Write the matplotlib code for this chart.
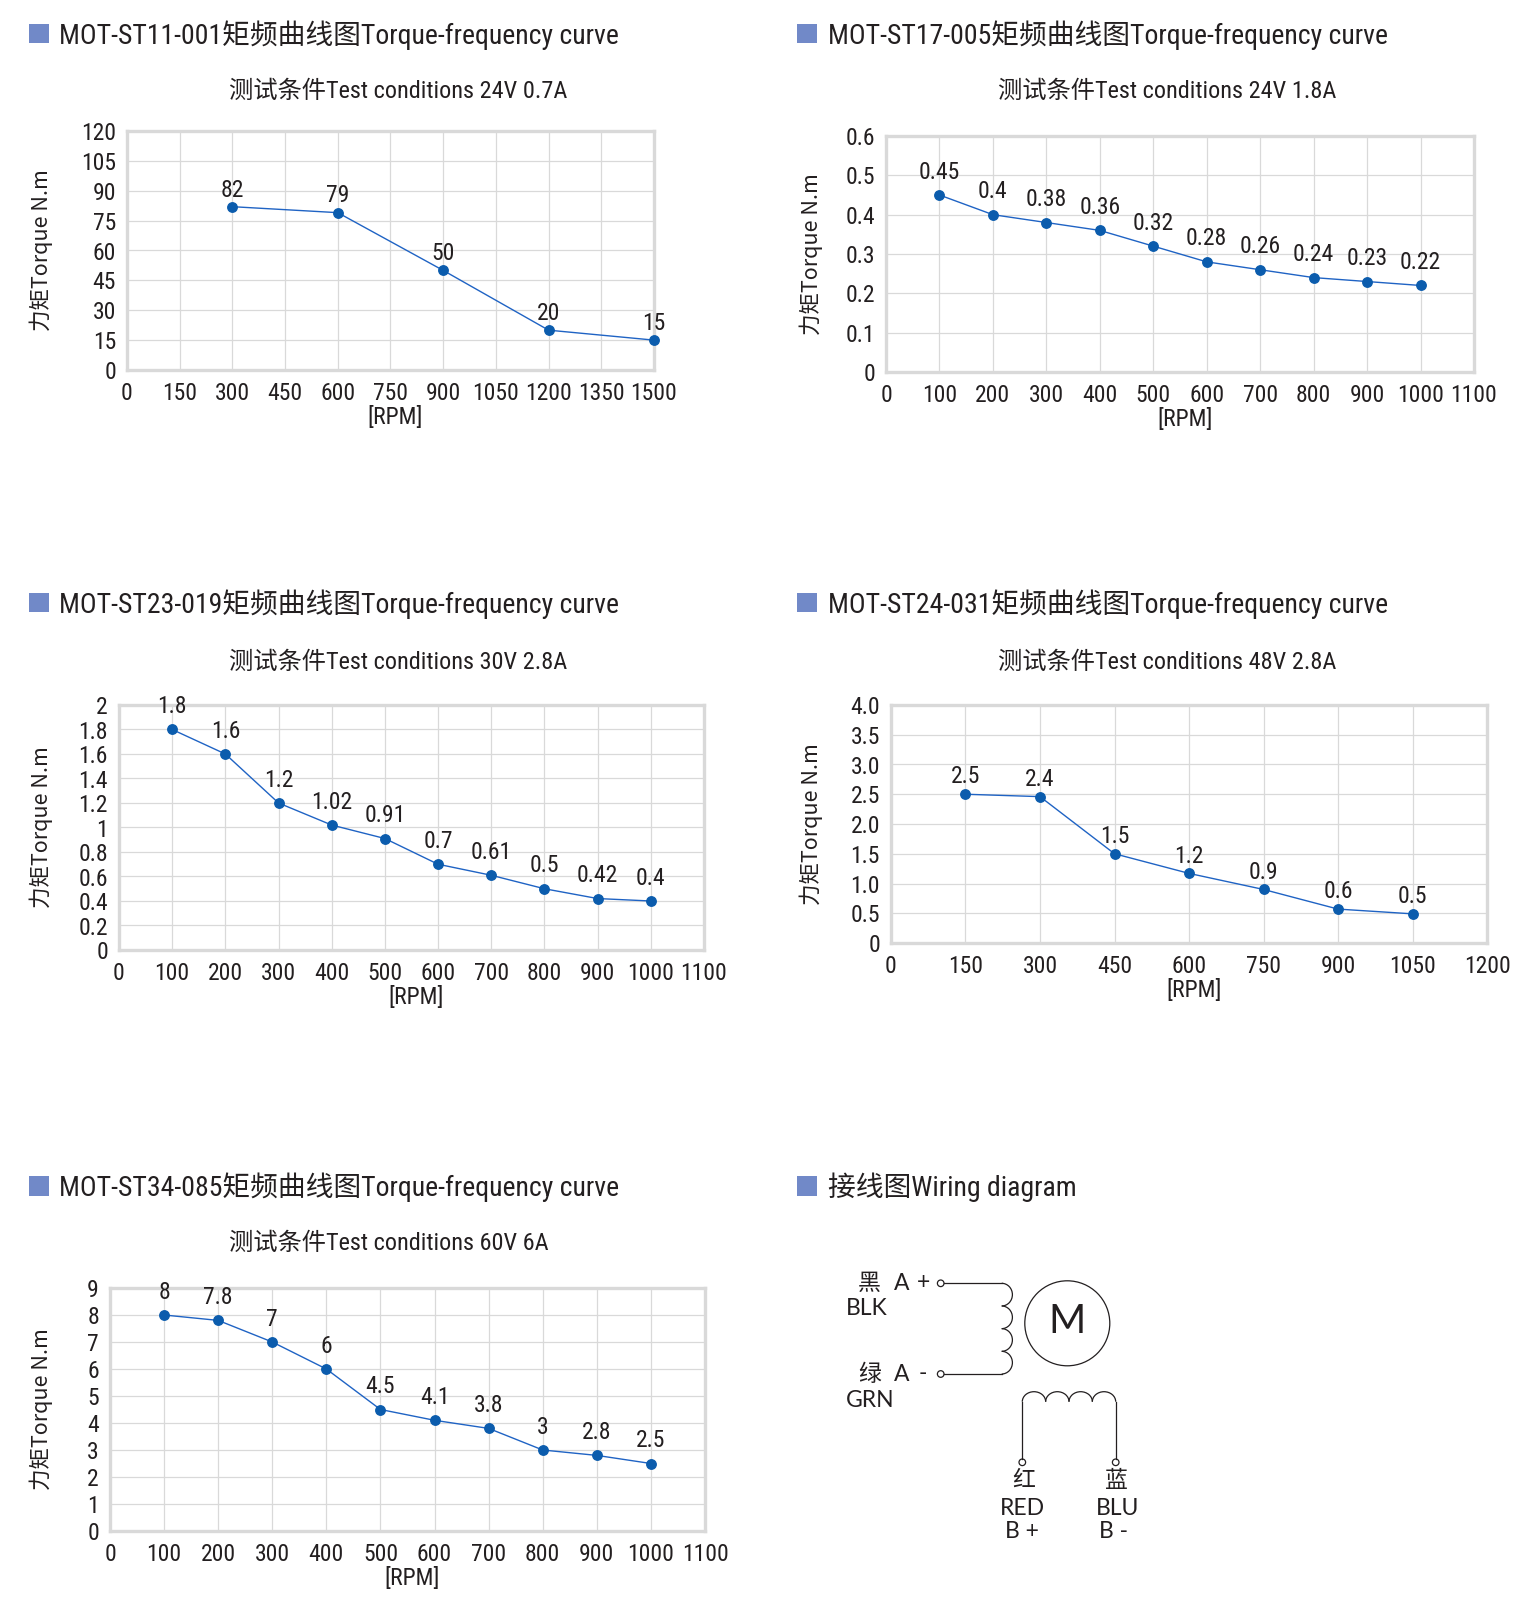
import matplotlib
matplotlib.use("Agg")
import matplotlib.pyplot as plt
from matplotlib.patches import Arc, Circle, Rectangle

W, H = 1524, 1610

NARROW = ['Roboto Condensed', 'Noto Sans CJK SC']
CJK = ['Noto Sans CJK SC', 'DejaVu Sans']
ROUND = ['Lato', 'Noto Sans CJK SC']
INK = '#231f20'
SQUARE = '#7189c8'
GRID = '#d9d9d9'
LINE = '#1f63c4'
DOT = '#0b5cad'

# ── data ───────────────────────────────────────────────────────────────────
st11_rpm = [300, 600, 900, 1200, 1500]
st11_torque = [82, 79, 50, 20, 15]
st11_labels = ['82', '79', '50', '20', '15']
st11_xticks = [0, 150, 300, 450, 600, 750, 900, 1050, 1200, 1350, 1500]
st11_yticks = [0, 15, 30, 45, 60, 75, 90, 105, 120]
st11_yticklabels = ['0', '15', '30', '45', '60', '75', '90', '105', '120']

st17_rpm = [100, 200, 300, 400, 500, 600, 700, 800, 900, 1000]
st17_torque = [0.45, 0.40, 0.38, 0.36, 0.32, 0.28, 0.26, 0.24, 0.23, 0.22]
st17_labels = ['0.45', '0.4', '0.38', '0.36', '0.32', '0.28', '0.26', '0.24', '0.23', '0.22']
st17_xticks = [0, 100, 200, 300, 400, 500, 600, 700, 800, 900, 1000, 1100]
st17_yticks = [0, 0.1, 0.2, 0.3, 0.4, 0.5, 0.6]
st17_yticklabels = ['0', '0.1', '0.2', '0.3', '0.4', '0.5', '0.6']

st23_rpm = [100, 200, 300, 400, 500, 600, 700, 800, 900, 1000]
st23_torque = [1.8, 1.6, 1.2, 1.02, 0.91, 0.7, 0.61, 0.5, 0.42, 0.4]
st23_labels = ['1.8', '1.6', '1.2', '1.02', '0.91', '0.7', '0.61', '0.5', '0.42', '0.4']
st23_xticks = [0, 100, 200, 300, 400, 500, 600, 700, 800, 900, 1000, 1100]
st23_yticks = [0, 0.2, 0.4, 0.6, 0.8, 1.0, 1.2, 1.4, 1.6, 1.8, 2.0]
st23_yticklabels = ['0', '0.2', '0.4', '0.6', '0.8', '1', '1.2', '1.4', '1.6', '1.8', '2']

st24_rpm = [150, 300, 450, 600, 750, 900, 1050]
st24_torque = [2.5, 2.46, 1.5, 1.17, 0.9, 0.57, 0.49]
st24_labels = ['2.5', '2.4', '1.5', '1.2', '0.9', '0.6', '0.5']
st24_xticks = [0, 150, 300, 450, 600, 750, 900, 1050, 1200]
st24_yticks = [0, 0.5, 1.0, 1.5, 2.0, 2.5, 3.0, 3.5, 4.0]
st24_yticklabels = ['0', '0.5', '1.0', '1.5', '2.0', '2.5', '3.0', '3.5', '4.0']

st34_rpm = [100, 200, 300, 400, 500, 600, 700, 800, 900, 1000]
st34_torque = [8, 7.8, 7, 6, 4.5, 4.1, 3.8, 3, 2.8, 2.5]
st34_labels = ['8', '7.8', '7', '6', '4.5', '4.1', '3.8', '3', '2.8', '2.5']
st34_xticks = [0, 100, 200, 300, 400, 500, 600, 700, 800, 900, 1000, 1100]
st34_yticks = [0, 1, 2, 3, 4, 5, 6, 7, 8, 9]
st34_yticklabels = ['0', '1', '2', '3', '4', '5', '6', '7', '8', '9']

titles = ['MOT-ST11-001矩频曲线图Torque-frequency curve',
          'MOT-ST17-005矩频曲线图Torque-frequency curve',
          'MOT-ST23-019矩频曲线图Torque-frequency curve',
          'MOT-ST24-031矩频曲线图Torque-frequency curve',
          'MOT-ST34-085矩频曲线图Torque-frequency curve']
subtitles = ['测试条件Test conditions 24V 0.7A',
             '测试条件Test conditions 24V 1.8A',
             '测试条件Test conditions 30V 2.8A',
             '测试条件Test conditions 48V 2.8A',
             '测试条件Test conditions 60V 6A']

fig = plt.figure(figsize=(W / 100, H / 100), dpi=100)
fig.patch.set_facecolor('white')

# overlay in pixel coordinates for headings and the wiring sketch
ov = fig.add_axes([0, 0, 1, 1])
ov.set_xlim(0, W)
ov.set_ylim(H, 0)
ov.axis('off')

COL_SQ = [29, 797]
COL_TXT = [59, 828]
COL_SUB = [229, 998]
COL_YLAB = [41, 811]
ROW_TITLE = [35, 604, 1187]
ROW_SUB = [91.5, 662, 1243]


def heading(col, row, text):
    y = ROW_TITLE[row]
    ov.add_patch(Rectangle((COL_SQ[col], y - 11), 20, 19.5, color=SQUARE, lw=0))
    ov.text(COL_TXT[col], y, text, fontsize=20, family=NARROW, color=INK,
            ha='left', va='center')


def chart(col, row, box, rpm, torque, labels, xticks, yticks, yticklabels, lab_off):
    left, top, right, bottom = box
    heading(col, row, titles[row * 2 + col])
    ov.text(COL_SUB[col], ROW_SUB[row], subtitles[row * 2 + col], fontsize=17.5,
            family=NARROW, color=INK, ha='left', va='center')
    ov.text(COL_YLAB[col], (top + bottom) / 2, '力矩Torque N.m', fontsize=15.5,
            family=CJK, color=INK, rotation=90, ha='center', va='center')
    ov.text((left + right) / 2 + 5, bottom + 47, '[RPM]', fontsize=17,
            family=NARROW, color=INK, ha='center', va='center')

    ax = fig.add_axes([left / W, 1 - bottom / H, (right - left) / W, (bottom - top) / H])
    ax.plot(rpm, torque, color=LINE, lw=1.0, marker='o', markersize=6.8,
            markerfacecolor=DOT, markeredgecolor=DOT, zorder=4, clip_on=False)
    for x, y, t in zip(rpm, torque, labels):
        ax.annotate(t, (x, y), xytext=(0, lab_off), textcoords='offset points',
                    ha='center', va='center', fontsize=17, family=NARROW, color=INK)
    ax.set_xlim(xticks[0], xticks[-1])
    ax.set_ylim(yticks[0], yticks[-1])
    ax.set_xticks(xticks)
    ax.set_xticklabels([str(v) for v in xticks], family=NARROW, fontsize=17, color=INK)
    ax.set_yticks(yticks)
    ax.set_yticklabels(yticklabels, family=NARROW, fontsize=17, color=INK)
    ax.tick_params(length=0)
    ax.tick_params(axis='x', pad=8.5)
    ax.tick_params(axis='y', pad=8)
    ax.grid(True, color=GRID, lw=0.9)
    ax.set_axisbelow(True)
    for s in ax.spines.values():
        s.set_color(GRID)
        s.set_linewidth(2.4)
    return ax


chart(0, 0, (127, 131, 654, 370), st11_rpm, st11_torque, st11_labels,
      st11_xticks, st11_yticks, st11_yticklabels, 12)
chart(1, 0, (886, 136, 1474, 372), st17_rpm, st17_torque, st17_labels,
      st17_xticks, st17_yticks, st17_yticklabels, 16.5)
chart(0, 1, (119, 705, 704, 950), st23_rpm, st23_torque, st23_labels,
      st23_xticks, st23_yticks, st23_yticklabels, 16.5)
chart(1, 1, (891, 705, 1487, 943), st24_rpm, st24_torque, st24_labels,
      st24_xticks, st24_yticks, st24_yticklabels, 12.5)
chart(0, 2, (110, 1288, 705, 1531), st34_rpm, st34_torque, st34_labels,
      st34_xticks, st34_yticks, st34_yticklabels, 16.5)

# ── wiring diagram ─────────────────────────────────────────────────────────
heading(1, 2, '接线图Wiring diagram')

lw = 0.9
wire = dict(color=INK, lw=lw)

# terminals
for cx, cy in [(940.7, 1283.3), (940.7, 1374), (1022.3, 1462.3), (1115.7, 1462.3)]:
    ov.add_patch(Circle((cx, cy), 3.3, fill=False, ec=INK, lw=lw))

# winding A
ov.plot([944, 1001.7], [1283.3, 1283.3], **wire)
ov.plot([944, 1001.7], [1374, 1374], **wire)
ra = (1374 - 1283.3) / 8
for i in range(4):
    ov.add_patch(Arc((1001.7, 1283.3 + ra * (2 * i + 1)), 2 * 10.7, 2 * ra,
                     theta1=-90, theta2=90, color=INK, lw=lw))

# winding B
rb = (1115.7 - 1022.3) / 8
for i in range(4):
    ov.add_patch(Arc((1022.3 + rb * (2 * i + 1), 1401.7), 2 * rb, 2 * 10,
                     theta1=180, theta2=360, color=INK, lw=lw))
ov.plot([1022.3, 1022.3], [1401.7, 1459], **wire)
ov.plot([1115.7, 1115.7], [1401.7, 1459], **wire)

# motor
ov.add_patch(Circle((1067.3, 1323.3), 42.5, fill=False, ec=INK, lw=lw))
ov.text(1067.3, 1321, 'M', fontsize=29, family=ROUND, color=INK, ha='center', va='center')

wtxt = dict(fontsize=16.5, family=ROUND, color=INK, va='center')
ov.text(869.3, 1283.3, '黑', ha='center', **wtxt)
ov.text(901.7, 1283.3, 'A', ha='center', **wtxt)
ov.text(923.3, 1282, '+', ha='center', **wtxt)
ov.text(846, 1308.3, 'BLK', ha='left', **wtxt)
ov.text(869.3, 1374, '绿', ha='center', **wtxt)
ov.text(901.7, 1374, 'A', ha='center', **wtxt)
ov.text(922.7, 1373, '-', ha='center', **wtxt)
ov.text(846, 1400, 'GRN', ha='left', **wtxt)
ov.text(1023.3, 1480, '红', ha='center', **wtxt)
ov.text(1022.3, 1508.3, 'RED', ha='center', **wtxt)
ov.text(1022.3, 1531.7, 'B +', ha='center', **wtxt)
ov.text(1116.7, 1480, '蓝', ha='center', **wtxt)
ov.text(1117.3, 1508.3, 'BLU', ha='center', **wtxt)
ov.text(1113.3, 1531.7, 'B -', ha='center', **wtxt)

fig.savefig('out.png', dpi=100, facecolor='white')
